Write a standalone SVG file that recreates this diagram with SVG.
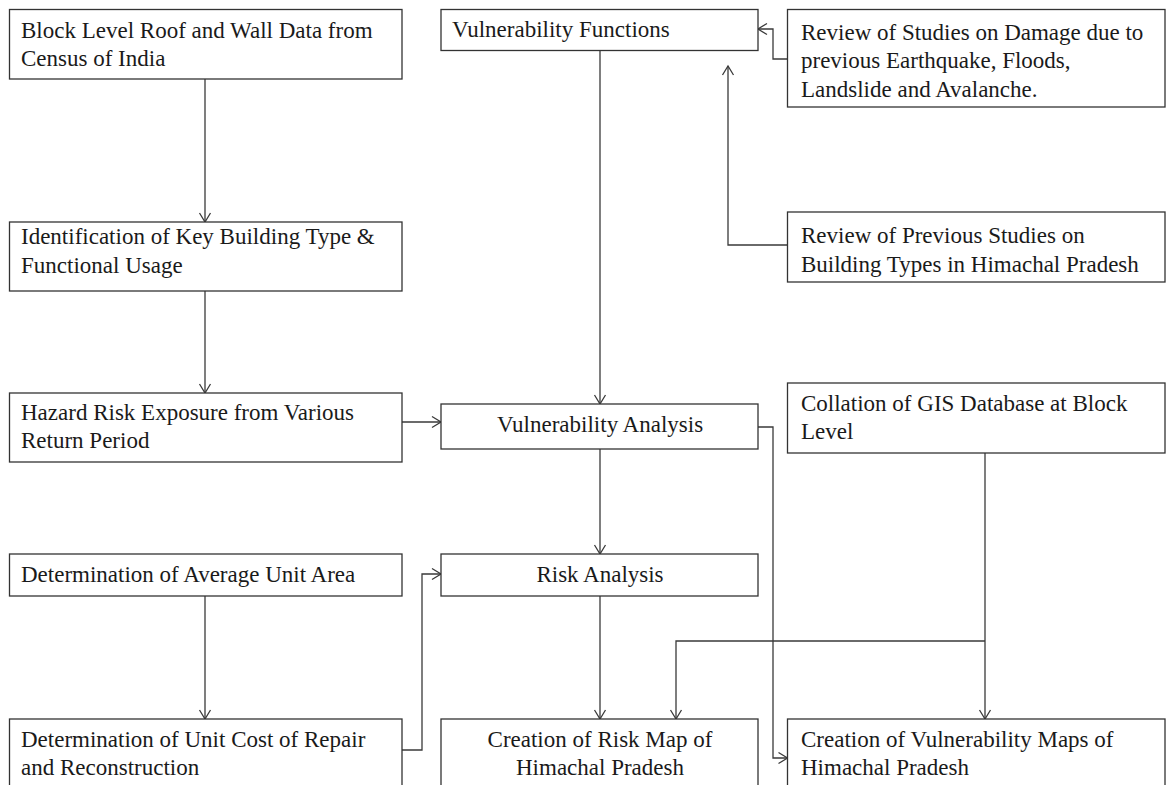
<svg xmlns="http://www.w3.org/2000/svg" width="1173" height="785" viewBox="0 0 1173 785">
<style>
.box{fill:#ffffff;stroke:#333333;stroke-width:1.3}
.t{font-family:"Liberation Serif","Times New Roman",serif;font-size:23px;fill:#1a1a1a}
.c{text-anchor:middle}
.ln{fill:none;stroke:#3a3a3a;stroke-width:1.3}
</style>
<defs>
<marker id="ah" markerUnits="userSpaceOnUse" markerWidth="14" markerHeight="14" viewBox="0 0 14 14" refX="12" refY="7" orient="auto">
<path d="M3,1.5 L12,7 L3,12.5" fill="none" stroke="#3a3a3a" stroke-width="1.3"/>
</marker>
</defs>
<rect width="1173" height="785" fill="#ffffff"/>
<g id="connectors">
<path class="ln" d="M205,79 V222" marker-end="url(#ah)"/>
<path class="ln" d="M205,291 V393" marker-end="url(#ah)"/>
<path class="ln" d="M402,422 H441" marker-end="url(#ah)"/>
<path class="ln" d="M600,50.5 V404" marker-end="url(#ah)"/>
<path class="ln" d="M787.5,59 H773 V29 H758" marker-end="url(#ah)"/>
<path class="ln" d="M787.5,245 H728 V66" marker-end="url(#ah)"/>
<path class="ln" d="M600,449 V554" marker-end="url(#ah)"/>
<path class="ln" d="M205,596 V719" marker-end="url(#ah)"/>
<path class="ln" d="M402,750 H422 V574 H441" marker-end="url(#ah)"/>
<path class="ln" d="M600,596 V719" marker-end="url(#ah)"/>
<path class="ln" d="M758,427 H773 V758 H787.5" marker-end="url(#ah)"/>
<path class="ln" d="M985,453 V719" marker-end="url(#ah)"/>
<path class="ln" d="M985,641 H676 V719" marker-end="url(#ah)"/>
</g>
<g id="n_census">
<rect class="box" x="9.5" y="9.5" width="392.5" height="69.5"/>
<text class="t" x="21" y="38">Block Level Roof and Wall Data from</text>
<text class="t" x="21" y="66">Census of India</text>
</g>
<g id="n_identification">
<rect class="box" x="9.5" y="222" width="392.5" height="69"/>
<text class="t" x="21" y="244">Identification of Key Building Type &amp;</text>
<text class="t" x="21" y="273">Functional Usage</text>
</g>
<g id="n_hazard">
<rect class="box" x="9.5" y="393" width="392.5" height="69"/>
<text class="t" x="21" y="420">Hazard Risk Exposure from Various</text>
<text class="t" x="21" y="448">Return Period</text>
</g>
<g id="n_avgarea">
<rect class="box" x="9.5" y="554" width="392.5" height="42"/>
<text class="t" x="21" y="582">Determination of Average Unit Area</text>
</g>
<g id="n_unitcost">
<rect class="box" x="9.5" y="719" width="392.5" height="90"/>
<text class="t" x="21" y="747">Determination of Unit Cost of Repair</text>
<text class="t" x="21" y="775">and Reconstruction</text>
</g>
<g id="n_vfunctions">
<rect class="box" x="441" y="9.5" width="317" height="41"/>
<text class="t" x="452" y="37">Vulnerability Functions</text>
</g>
<g id="n_reviewdamage">
<rect class="box" x="787.5" y="9.5" width="377.5" height="97.5"/>
<text class="t" x="801" y="40">Review of Studies on Damage due to</text>
<text class="t" x="801" y="68">previous Earthquake, Floods,</text>
<text class="t" x="801" y="97">Landslide and Avalanche.</text>
</g>
<g id="n_reviewbuilding">
<rect class="box" x="787.5" y="212" width="377.5" height="70"/>
<text class="t" x="801" y="243">Review of Previous Studies on</text>
<text class="t" x="801" y="272">Building Types in Himachal Pradesh</text>
</g>
<g id="n_vanalysis">
<rect class="box" x="441" y="404" width="317" height="45"/>
<text class="t c" x="600" y="432">Vulnerability Analysis</text>
</g>
<g id="n_gis">
<rect class="box" x="787.5" y="383" width="377.5" height="70"/>
<text class="t" x="801" y="411">Collation of GIS Database at Block</text>
<text class="t" x="801" y="439">Level</text>
</g>
<g id="n_risk">
<rect class="box" x="441" y="554" width="317" height="42"/>
<text class="t c" x="600" y="582">Risk Analysis</text>
</g>
<g id="n_riskmap">
<rect class="box" x="441" y="719" width="317" height="90"/>
<text class="t c" x="600" y="747">Creation of Risk Map of</text>
<text class="t c" x="600" y="775">Himachal Pradesh</text>
</g>
<g id="n_vulnmaps">
<rect class="box" x="787.5" y="719" width="377.5" height="90"/>
<text class="t" x="801" y="747">Creation of Vulnerability Maps of</text>
<text class="t" x="801" y="775">Himachal Pradesh</text>
</g>
</svg>
